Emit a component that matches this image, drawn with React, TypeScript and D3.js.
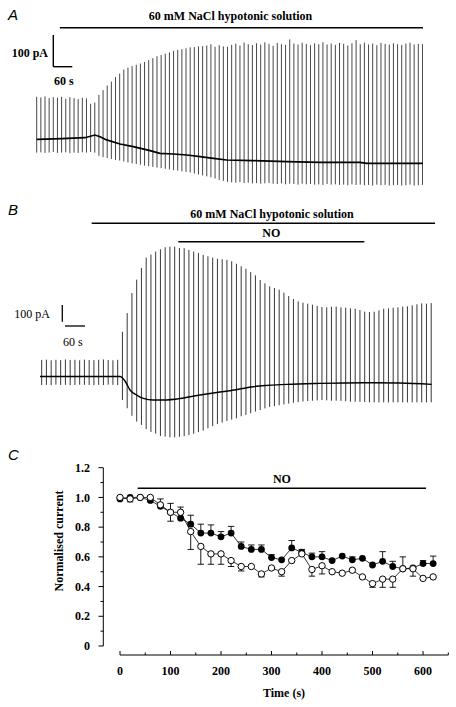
import React from "react";
import * as d3 from "d3";

// ---------- Panel A data (pA, s) ----------
const spikeStartA = 0;
const spikeIntervalA = 13.1;
const spikeTopA = [
  134,132,135,130,133,131,134,128,133,130,127,131,129,112,116,140,155,170,182,196,207,220,226,231,235,239,244,250,256,262,266,270,274,279,282,284,287,290,291,293,294,296,300,292,297,293,292,
  298,302,296,305,300,297,303,299,306,301,
  295,304,300,298,315,302,299,305,301,297,
  303,300,306,299,302,298,304,301,296,303,
  313,300,305,299,302,297,304,301,299,303,
  300,298,302,305,299,301,300,
];
const spikeBotA = [
  -42,-41,-43,-42,-40,-43,-42,-41,-44,-42,-43,-41,-42,-40,-42,
  -52,-56,-59,-62,-65,-67,-70,-73,-76,-78,-80,-83,-85,-87,-89,-91,-93,-95,-97,-99,-101,-103,-105,-108,-111,-114,-117,-120,-124,-128,-131,-134,
  -136,-137,-135,-138,-137,-139,-138,-140,-139,-138,
  -140,-141,-139,-142,-140,-141,-143,-140,-142,-141,
  -143,-142,-144,-141,-143,-142,-144,-143,-145,-142,
  -144,-143,-145,-144,-146,-143,-145,-144,-146,-145,
  -144,-146,-145,-143,-146,-145,-144,
];
const holdingA_t = [0, 80, 152, 184, 200, 221, 263, 305, 358, 389, 431, 474, 516, 558, 600, 683, 790, 895, 1021, 1043, 1220];
const holdingA_I = [0, 2, 5, 13.5, 8, -2, -14.8, -23.3, -35.9, -44.2, -46.4, -49.5, -54.9, -59.9, -65.3, -67.4, -70.6, -72.6, -72.6, -75.7, -75.7];
const hypoA = [73, 1220];

// ---------- Panel B data ----------
const spikeStartB = 5;
const spikeIntervalB = 14.25;
const spikeTopB = [
  99,101,97,100,98,102,99,100,97,101,99,98,100,102,99,97,100,
  268,380,500,580,650,712,730,748,762,774,
  777,778,770,768,758,748,740,728,720,712,
  705,702,698,690,675,660,645,625,606,578,
  558,540,530,520,502,482,464,450,442,436,
  430,422,416,414,418,418,414,412,408,406,
  398,388,386,388,396,406,408,412,414,418,
  420,426,432,438,436,440,
];
const spikeBotB = [
  -51,-50,-52,-49,-51,-50,-52,-51,-49,-50,-51,-52,-50,-51,-49,-50,-51,
  -141,-190,-235,-270,-290,-315,-332,-342,-356,-360,
  -364,-364,-361,-357,-351,-343,-333,-324,-310,-297,
  -285,-276,-266,-258,-250,-238,-230,-220,-210,-201,
  -191,-182,-177,-172,-167,-162,-157,-153,-150,-147,
  -145,-143,-141,-143,-145,-145,-146,-148,-151,-151,
  -152,-153,-155,-155,-155,-155,-155,-155,-155,-155,
  -155,-155,-155,-155,-155,-155,
];
const holdingB_t = [0, 240, 255, 270, 290, 310, 339, 370, 420, 450, 480, 540, 570, 639, 741, 840, 969, 1080, 1175];
const holdingB_I = [0, 0, -27, -81, -111, -131, -141, -141, -132, -121, -111, -93, -85, -61, -47, -41, -37, -39, -47];
const hypoB = [155, 1185];
const noB = [415, 973];

// ---------- Panel C data ----------
const timeC = [0,20,40,60,80,100,120,140,160,180,200,220,240,260,280,300,320,340,360,380,400,420,440,460,480,500,520,540,560,580,600,620];
const filledC = [0.99,1.0,1.0,0.98,0.94,0.90,0.86,0.82,0.76,0.76,0.735,0.76,0.67,0.65,0.65,0.595,0.58,0.66,0.63,0.60,0.60,0.575,0.605,0.58,0.59,0.545,0.57,0.535,0.52,0.525,0.555,0.555];
const filledErr = [0,0,0,0,0.05,0.06,0.075,0.06,0.06,0.055,0.035,0.045,0.03,0.03,0.03,0.02,0,0.05,0.02,0.025,0.035,0,0,0.02,0,0,0.065,0.035,0.08,0,0.02,0.05];
const openC = [1.0,0.99,1.0,1.0,0.95,0.90,0.90,0.77,0.67,0.62,0.62,0.575,0.535,0.535,0.485,0.525,0.50,0.575,0.62,0.515,0.54,0.50,0.49,0.51,0.465,0.42,0.45,0.45,0.52,0.52,0.455,0.465];
const openErr = [0,0.02,0,0,0,0.06,0,0.12,0.12,0.07,0.07,0.04,0.03,0,0.02,0,0.03,0,0,0.045,0.055,0,0,0,0,0.025,0.055,0.055,0,0.05,0,0];
const yTicksC = [0, 0.2, 0.4, 0.6, 0.8, 1.0, 1.2];
const yTickLabelsC = ["0", "0.2", "0.4", "0.6", "0.8", "1.0", "1.2"];
const xTicksC = [0, 100, 200, 300, 400, 500, 600];
const noC = [35, 606];

const SERIF = "'Liberation Serif', 'Times New Roman', serif";
const SANS = "'Liberation Sans', Arial, sans-serif";

export default function App() {
  // scales A
  const xA = d3.scaleLinear().domain([0, 1220]).range([36.7, 423]);
  const yA = d3.scaleLinear().domain([0, 100]).range([139.3, 107.6]);
  // scales B
  const xB = d3.scaleLinear().domain([0, 1175]).range([40, 431.7]);
  const yB = d3.scaleLinear().domain([0, 100]).range([376.5, 359.8]);
  // scales C
  const xC = d3.scaleLinear().domain([0, 650]).range([120, 448.3]);
  const yC = d3.scaleLinear().domain([0, 1.2]).range([646, 467.7]);

  const holdA = d3.line<number>().x((_, i) => xA(holdingA_t[i])).y((d) => yA(d))(holdingA_I) || "";
  const holdB = d3
    .line<number>()
    .x((_, i) => xB(holdingB_t[i]))
    .y((d) => yB(d))
    .curve(d3.curveMonotoneX)(holdingB_I) || "";
  const lineC = (vals: number[]) =>
    d3.line<number>().x((_, i) => xC(timeC[i])).y((d) => yC(d))(vals) || "";

  const yMinor = d3.range(0, 1.21, 0.1);
  const xMinor = d3.range(0, 651, 50);

  return (
    <svg width={456} height={707} style={{ position: "absolute", left: 0, top: 0, background: "#fff" }}>
      <rect x={0} y={0} width={456} height={707} fill="#fff" />
      {/* ---------- Panel A ---------- */}
      <text x={8} y={20} fontFamily={SANS} fontStyle="italic" fontSize={15}>A</text>
      <text x={230.5} y={19.5} fontFamily={SERIF} fontWeight="bold" fontSize={12} textAnchor="middle">
        60 mM NaCl hypotonic solution
      </text>
      <line x1={xA(hypoA[0])} x2={xA(hypoA[1])} y1={27.7} y2={27.7} stroke="#000" strokeWidth={1.6} />
      {/* scale bar A */}
      <line x1={53.3} x2={53.3} y1={66.7 - (yA(0) - yA(100))} y2={66.7} stroke="#000" strokeWidth={1.4} />
      <line x1={53.3} x2={53.3 + (xA(60) - xA(0))} y1={66.7} y2={66.7} stroke="#000" strokeWidth={1.4} />
      <text x={48} y={57} fontFamily={SERIF} fontWeight="bold" fontSize={12} textAnchor="end">100 pA</text>
      <text x={54} y={85} fontFamily={SERIF} fontWeight="bold" fontSize={12}>60 s</text>
      {spikeTopA.map((top, i) => {
        const x = xA(spikeStartA + i * spikeIntervalA);
        return <line key={"a" + i} x1={x} x2={x} y1={yA(top)} y2={yA(spikeBotA[i])} stroke="#333" strokeWidth={0.9} />;
      })}
      <path d={holdA} fill="none" stroke="#000" strokeWidth={1.7} />

      {/* ---------- Panel B ---------- */}
      <text x={8} y={215} fontFamily={SANS} fontStyle="italic" fontSize={15}>B</text>
      <text x={272} y={217.5} fontFamily={SERIF} fontWeight="bold" fontSize={12} textAnchor="middle">
        60 mM NaCl hypotonic solution
      </text>
      <line x1={xB(hypoB[0])} x2={xB(hypoB[1])} y1={223.3} y2={223.3} stroke="#000" strokeWidth={1.6} />
      <text x={(xB(noB[0]) + xB(noB[1])) / 2} y={236.7} fontFamily={SERIF} fontWeight="bold" fontSize={12} textAnchor="middle">NO</text>
      <line x1={xB(noB[0])} x2={xB(noB[1])} y1={241.7} y2={241.7} stroke="#000" strokeWidth={1.6} />
      {/* scale bar B */}
      <line x1={62.3} x2={62.3} y1={321.7 - (yB(0) - yB(100))} y2={321.7} stroke="#000" strokeWidth={1.3} />
      <line x1={65} x2={65 + (xB(60) - xB(0))} y1={326} y2={326} stroke="#000" strokeWidth={1.3} />
      <text x={50} y={318} fontFamily={SERIF} fontSize={12} textAnchor="end">100 pA</text>
      <text x={63} y={346} fontFamily={SERIF} fontSize={12}>60 s</text>
      {spikeTopB.map((top, i) => {
        const x = xB(spikeStartB + i * spikeIntervalB);
        return <line key={"b" + i} x1={x} x2={x} y1={yB(top)} y2={yB(spikeBotB[i])} stroke="#222" strokeWidth={0.9} />;
      })}
      <path d={holdB} fill="none" stroke="#000" strokeWidth={1.4} />

      {/* ---------- Panel C ---------- */}
      <text x={8} y={460} fontFamily={SANS} fontStyle="italic" fontSize={15}>C</text>
      {/* y axis */}
      <line x1={103.3} x2={103.3} y1={yC(1.2)} y2={yC(0)} stroke="#000" strokeWidth={1} />
      {yMinor.map((v, i) => (
        <line key={"ym" + i} x1={i % 2 === 0 ? 98.5 : 100.5} x2={103.3} y1={yC(v)} y2={yC(v)} stroke="#000" strokeWidth={1} />
      ))}
      {yTicksC.map((v, i) => (
        <text key={"yl" + i} x={90} y={yC(v) + 4.2} fontFamily={SERIF} fontWeight="bold" fontSize={12} textAnchor="end">
          {yTickLabelsC[i]}
        </text>
      ))}
      <text transform={`translate(63,541) rotate(-90)`} fontFamily={SERIF} fontWeight="bold" fontSize={12} textAnchor="middle">
        Normalised current
      </text>
      {/* x axis */}
      <line x1={xC(0)} x2={xC(650)} y1={655} y2={655} stroke="#000" strokeWidth={1} />
      {xMinor.map((v, i) => (
        <line key={"xm" + i} x1={xC(v)} x2={xC(v)} y1={655} y2={i % 2 === 0 ? 651 : 652.5} stroke="#000" strokeWidth={1} />
      ))}
      {xTicksC.map((v, i) => (
        <text key={"xl" + i} x={xC(v)} y={675} fontFamily={SERIF} fontWeight="bold" fontSize={12} textAnchor="middle">
          {v}
        </text>
      ))}
      <text x={284} y={697} fontFamily={SERIF} fontWeight="bold" fontSize={12} textAnchor="middle">Time (s)</text>
      {/* NO bar */}
      <text x={(xC(noC[0]) + xC(noC[1])) / 2} y={482.7} fontFamily={SERIF} fontWeight="bold" fontSize={12} textAnchor="middle">NO</text>
      <line x1={xC(noC[0])} x2={xC(noC[1])} y1={488.3} y2={488.3} stroke="#000" strokeWidth={1.6} />
      {/* error bars */}
      {filledC.map((v, i) =>
        filledErr[i] > 0 ? (
          <g key={"fe" + i} stroke="#000" strokeWidth={0.9}>
            <line x1={xC(timeC[i])} x2={xC(timeC[i])} y1={yC(v)} y2={yC(v + filledErr[i])} />
            <line x1={xC(timeC[i]) - 3.2} x2={xC(timeC[i]) + 3.2} y1={yC(v + filledErr[i])} y2={yC(v + filledErr[i])} />
          </g>
        ) : null
      )}
      {openC.map((v, i) =>
        openErr[i] > 0 ? (
          <g key={"oe" + i} stroke="#000" strokeWidth={0.9}>
            <line x1={xC(timeC[i])} x2={xC(timeC[i])} y1={yC(v)} y2={yC(v - openErr[i])} />
            <line x1={xC(timeC[i]) - 3.2} x2={xC(timeC[i]) + 3.2} y1={yC(v - openErr[i])} y2={yC(v - openErr[i])} />
          </g>
        ) : null
      )}
      <path d={lineC(filledC)} fill="none" stroke="#000" strokeWidth={0.8} />
      <path d={lineC(openC)} fill="none" stroke="#000" strokeWidth={0.8} />
      {filledC.map((v, i) => (
        <circle key={"fc" + i} cx={xC(timeC[i])} cy={yC(v)} r={3.4} fill="#000" />
      ))}
      {openC.map((v, i) => (
        <circle key={"oc" + i} cx={xC(timeC[i])} cy={yC(v)} r={3.2} fill="#fff" stroke="#000" strokeWidth={1} />
      ))}
    </svg>
  );
}
